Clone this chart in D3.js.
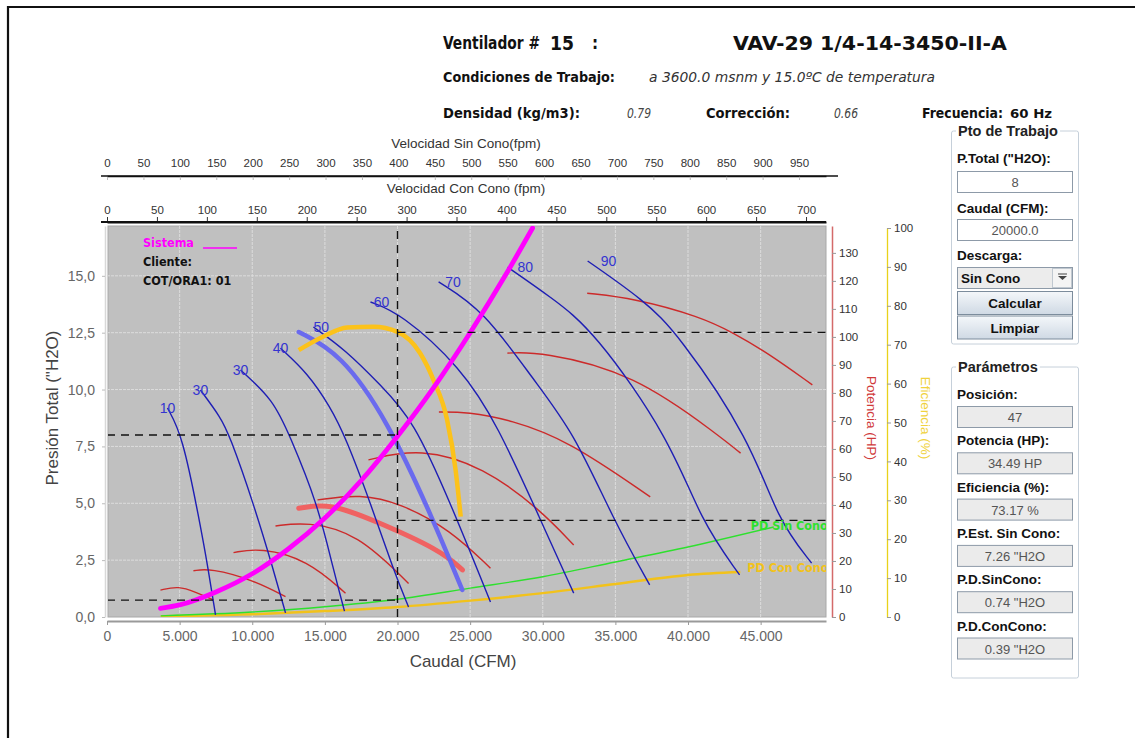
<!DOCTYPE html>
<html><head><meta charset="utf-8">
<script src="https://cdn.jsdelivr.net/npm/d3@7"></script>
<style>body{margin:0;background:#fff}svg{display:block}</style>
</head><body><svg id="c" width="1135" height="738"></svg>
<script>
// ---------------- DATA ----------------
const positionLabels = ["10","30","30","40","50","60","70","80","90"];
const pressureCfm = [
  [4160, 5190, 6360, 6980, 7470],
  [6430, 7810, 8430, 10080, 11460, 12290],
  [9190, 11460, 12560, 14490, 15590, 16350],
  [11940, 13800, 15380, 16420, 18140, 19720, 20760],
  [14210, 16420, 18830, 21100, 23650, 26400],
  [18140, 20210, 24350, 26900, 29850, 32130],
  [22830, 25930, 29370, 32130, 34880, 37360],
  [27580, 30540, 33500, 38800, 40860, 43550],
  [33090, 36950, 39290, 44310, 46170, 48510]
];
const pressureVals = [
  [9.19, 8.0, 4.26, 2.07, 0.09],
  [9.98, 8.79, 8.0, 5.01, 2.07, 0.18],
  [10.86, 9.54, 8.0, 5.01, 2.07, 0.26],
  [11.82, 10.73, 9.23, 7.91, 5.01, 2.07, 0.44],
  [12.75, 11.74, 10.20, 8.66, 5.01, 0.66],
  [13.85, 13.36, 10.99, 8.44, 4.26, 1.05],
  [14.73, 13.49, 10.42, 8.13, 4.26, 1.41],
  [15.38, 14.07, 12.62, 7.78, 4.26, 1.85],
  [15.65, 13.93, 12.48, 7.78, 4.26, 2.37]
];
const powerCfm = [
  [3680, 4920, 6090, 7330],
  [5950, 7120, 10080, 12290],
  [8710, 10570, 13800, 16420],
  [11600, 13800, 17240, 20760],
  [14490, 17450, 20210, 23650, 26400],
  [18000, 21590, 25930, 29850, 32130],
  [22850, 24830, 27780, 31700, 37400],
  [27560, 29850, 36260, 42250, 43620],
  [33060, 36260, 40870, 43140, 45480, 48560]
];
const powerVals = [
  [9.6, 11.1, 8.9, 6.1],
  [16.5, 17.4, 13.2, 7.25],
  [23.0, 24.75, 20.4, 8.5],
  [32.5, 34.0, 29.9, 12.0],
  [41.8, 43.9, 40.6, 31.1, 17.4],
  [56.1, 60.4, 53.6, 38.2, 25.7],
  [73.2, 73.2, 70.4, 63.2, 42.9],
  [94.2, 94.75, 87.1, 64.3, 58.5],
  [115.6, 113.8, 107.2, 101.4, 94.3, 82.9]
];
// operating blade position (47)
const opPressureCfm = [13200, 16070, 19310, 22470, 24460];
const opPressure    = [12.53, 11.6, 8.66, 4.26, 1.19];
const opPowerCfm    = [13200, 15380, 18340, 22960, 24470];
const opPower       = [38.8, 40.6, 34.6, 23.9, 16.8];
const opEffCfm      = [13200, 14900, 16530, 18340, 20000, 21560, 22480, 23420, 24000, 24350];
const opEff         = [68.6, 72.1, 74.4, 74.6, 73.3, 67.8, 60.9, 50.6, 37.8, 25.8];
// system curve
const systemCfm = [3680, 5000, 7500, 10000, 12500, 15000, 17500, 20000, 22500, 25000, 27500, 29300];
const systemP   = [0.38, 0.53, 1.1, 1.9, 3.0, 4.35, 6.0, 7.95, 10.1, 12.5, 15.1, 17.1];
// velocity pressure
const pdSinCfm = [3700, 10000, 15000, 20000, 25000, 30000, 35000, 40000, 45900];
const pdSin    = [0.05, 0.22, 0.45, 0.78, 1.27, 1.77, 2.42, 3.08, 3.96];
const pdConCfm = [3700, 10000, 15000, 20000, 25000, 30000, 35000, 40000, 43600];
const pdCon    = [0.03, 0.12, 0.26, 0.44, 0.72, 1.05, 1.45, 1.85, 1.98];
// working point
const workCfm = 20000, workP = 8, workHP = 34.49, workEff = 73.17, workPD = 0.74;
// ticks
const xTicks = [0,5000,10000,15000,20000,25000,30000,35000,40000,45000];
const yTicks = [0,2.5,5,7.5,10,12.5,15];
const hpTicks = d3.range(0, 131, 10);
const effTicks = d3.range(0, 101, 10);
const sinConoTicks = d3.range(0, 951, 50);
const conConoTicks = d3.range(0, 701, 50);
// panel texts
const ptoLabels = ['P.Total ("H2O):', 'Caudal (CFM):'];
const ptoValues = ['8', '20000.0'];
const paramLabels = ['Posición:', 'Potencia (HP):', 'Eficiencia (%):', 'P.Est. Sin Cono:', 'P.D.SinCono:', 'P.D.ConCono:'];
const paramValues = ['47', '34.49 HP', '73.17 %', '7.26 "H2O', '0.74 "H2O', '0.39 "H2O'];

// ---------------- SETUP ----------------
const svg = d3.select("#c");
const SANS = "'Liberation Sans', Arial, sans-serif";
const COND = "'DejaVu Sans Condensed', 'Liberation Sans Narrow', 'DejaVu Sans', sans-serif";
const L = 107, R = 826, T = 226, B = 617;
const x = d3.scaleLinear().domain([0, 49500]).range([L, R]);
const y = d3.scaleLinear().domain([0, 17.19]).range([B, T]);
const yHP = d3.scaleLinear().domain([0, 139.6]).range([B, T]);
const yEff = d3.scaleLinear().domain([0, 100]).range([B, 228]);
const xSin = d3.scaleLinear().domain([0, 987]).range([L, R]);
const xCon = d3.scaleLinear().domain([0, 720]).range([L, R]);

svg.append("rect").attr("width",1135).attr("height",738).attr("fill","#fff");
svg.append("path").attr("d","M8,738V7H1135").attr("fill","none").attr("stroke","#111").attr("stroke-width",2.2);

// ---------------- HEADER ----------------
function txt(xx, yy, s, o) {
  o = o || {};
  const t = svg.append("text").attr("x", xx).attr("y", yy).text(s)
    .attr("font-family", o.ff || COND).attr("font-size", o.fs || 13)
    .attr("font-weight", o.fw || "normal").attr("font-style", o.fi || "normal")
    .attr("fill", o.fill || "#111").attr("text-anchor", o.anchor || "start");
  if (o.len) t.attr("textLength", o.len).attr("lengthAdjust", "spacingAndGlyphs");
  return t;
}
txt(443, 49, "Ventilador #", {fs:17, fw:"bold", len:97});
txt(550, 50, "15", {fs:20, fw:"bold", len:24});
txt(592, 49, ":", {fs:17, fw:"bold"});
txt(733, 50, "VAV-29 1/4-14-3450-II-A", {fs:19, fw:"bold", len:274});
txt(443, 82, "Condiciones de Trabajo:", {fs:13.5, fw:"bold", len:172});
txt(649, 82, "a 3600.0 msnm y 15.0ºC de temperatura", {fs:13.5, fi:"italic", fill:"#333", len:286});
txt(443, 118, "Densidad (kg/m3):", {fs:13.5, fw:"bold", len:137});
txt(627, 118, "0.79", {fs:13.5, fi:"italic", fill:"#444", len:24});
txt(706, 118, "Corrección:", {fs:13.5, fw:"bold", len:84});
txt(834, 118, "0.66", {fs:13.5, fi:"italic", fill:"#444", len:24});
txt(922, 118, "Frecuencia:", {fs:13.5, fw:"bold", len:81});
txt(1010, 118, "60 Hz", {fs:13, fw:"bold", len:42});

// ---------------- TOP AXES ----------------
const gSin = svg.append("g").attr("transform", `translate(0,176)`)
  .call(d3.axisTop(xSin).tickValues(sinConoTicks).tickSizeInner(-4).tickSizeOuter(0).tickPadding(9));
gSin.select(".domain").attr("stroke","#111").attr("stroke-width",1.5);
gSin.selectAll(".tick line").attr("stroke","#bbb");
gSin.selectAll("text").attr("font-family",SANS).attr("font-size",11.5).attr("fill","#333");
svg.append("line").attr("x1",101).attr("x2",838).attr("y1",176).attr("y2",176).attr("stroke","#111").attr("stroke-width",1.5);
txt(466, 148, "Velocidad Sin Cono(fpm)", {ff:SANS, fs:13.5, fill:"#333", anchor:"middle"});

const gCon = svg.append("g").attr("transform", `translate(0,222)`)
  .call(d3.axisTop(xCon).tickValues(conConoTicks).tickSizeInner(5).tickSizeOuter(0).tickPadding(3));
gCon.select(".domain").attr("stroke","#111").attr("stroke-width",2);
gCon.selectAll(".tick line").attr("stroke","#333");
gCon.selectAll("text").attr("font-family",SANS).attr("font-size",11.5).attr("fill","#333");
svg.append("line").attr("x1",101).attr("x2",826).attr("y1",222).attr("y2",222).attr("stroke","#111").attr("stroke-width",2);
txt(466, 193, "Velocidad Con Cono (fpm)", {ff:SANS, fs:13.5, fill:"#333", anchor:"middle"});

// ---------------- PLOT AREA ----------------
svg.append("clipPath").attr("id","clip").append("rect").attr("x",L+1).attr("y",T).attr("width",R-L-1).attr("height",B-T);
svg.append("rect").attr("x",L+1).attr("y",T).attr("width",R-L-1).attr("height",B-T)
  .attr("fill","#c0c0c0").attr("stroke","#a8a8a8").attr("stroke-width",1);
const plot = svg.append("g").attr("clip-path","url(#clip)");
plot.selectAll(".gx").data(xTicks.slice(1)).join("line")
  .attr("x1",d=>x(d)).attr("x2",d=>x(d)).attr("y1",T).attr("y2",B)
  .attr("stroke","#dcdcdc").attr("stroke-width",1).attr("stroke-dasharray","3,1");
plot.selectAll(".gy").data(yTicks.slice(1)).join("line")
  .attr("x1",L).attr("x2",R).attr("y1",d=>y(d)).attr("y2",d=>y(d))
  .attr("stroke","#dcdcdc").attr("stroke-width",1).attr("stroke-dasharray","3,1");

const lineP = d3.line().x(d=>x(d[0])).y(d=>y(d[1])).curve(d3.curveBasis);
const lineHP = d3.line().x(d=>x(d[0])).y(d=>yHP(d[1])).curve(d3.curveBasis);
const lineEff = d3.line().x(d=>x(d[0])).y(d=>yEff(d[1])).curve(d3.curveMonotoneX);
const lineSys = d3.line().x(d=>x(d[0])).y(d=>y(d[1])).curve(d3.curveMonotoneX);
const zip = (a,b) => a.map((v,i)=>[v,b[i]]);

plot.append("path").attr("d", lineSys(zip(pdConCfm,pdCon))).attr("fill","none").attr("stroke","#f2c21b").attr("stroke-width",2.5);
plot.append("path").attr("d", lineSys(zip(pdSinCfm,pdSin))).attr("fill","none").attr("stroke","#2ee02e").attr("stroke-width",1.4);
powerCfm.forEach((c,i)=>{
  plot.append("path").attr("d", lineHP(zip(c,powerVals[i]))).attr("fill","none").attr("stroke","#cc2a2a").attr("stroke-width",1.4);
});
plot.append("path").attr("d", lineHP(zip(opPowerCfm,opPower))).attr("fill","none").attr("stroke","#f06262").attr("stroke-width",5).attr("stroke-linecap","round");
pressureCfm.forEach((c,i)=>{
  plot.append("path").attr("d", lineP(zip(c,pressureVals[i]))).attr("fill","none").attr("stroke","#1e1eb4").attr("stroke-width",1.4);
  const s = [c[0], pressureVals[i][0]];
  plot.append("text").attr("x", x(s[0]) + (i<4 ? 0 : (i-4)*3.3)).attr("y", y(s[1]) + 5)
    .attr("text-anchor", i<4 ? "middle" : "start").text(positionLabels[i])
    .attr("font-family",SANS).attr("font-size",14).attr("fill","#3434d0");
});
plot.append("path").attr("d", lineP(zip(opPressureCfm,opPressure))).attr("fill","none").attr("stroke","#6a6aee").attr("stroke-width",4.5).attr("stroke-linecap","round");
plot.append("path").attr("d", lineEff(zip(opEffCfm,opEff))).attr("fill","none").attr("stroke","#fcc21a").attr("stroke-width",4.5);
plot.append("path").attr("d", lineSys(zip(systemCfm,systemP))).attr("fill","none").attr("stroke","#ff00ff").attr("stroke-width",4.8).attr("stroke-linecap","round");

function dline(x1,y1,x2,y2){
  plot.append("line").attr("x1",x1).attr("y1",y1).attr("x2",x2).attr("y2",y2)
    .attr("stroke","#111").attr("stroke-width",1.4).attr("stroke-dasharray","8,6");
}
dline(x(workCfm), B, x(workCfm), T);
dline(L, y(workP), x(workCfm), y(workP));
dline(L, y(workPD), x(workCfm), y(workPD));
dline(x(workCfm), yHP(workHP), R, yHP(workHP));
dline(x(workCfm), yEff(workEff), R, yEff(workEff));

const gl = pdSinCfm.length-1, yl = pdConCfm.length-1;
plot.append("text").attr("x", x(pdSinCfm[gl]) - 23).attr("y", y(pdSin[gl]) + 3).text("PD Sin Cono")
  .attr("font-family",COND).attr("font-weight","bold").attr("font-size",12.5).attr("fill","#2ee02e");
plot.append("text").attr("x", x(pdConCfm[yl]) + 7).attr("y", y(pdCon[yl])).text("PD Con Cono")
  .attr("font-family",COND).attr("font-weight","bold").attr("font-size",12.5).attr("fill","#f2c21b");

txt(143, 247, "Sistema", {fs:12.5, fw:"bold", fill:"#ff00ff"});
svg.append("line").attr("x1",203).attr("x2",237).attr("y1",248).attr("y2",248).attr("stroke","#ff00ff").attr("stroke-width",1.3);
txt(143, 266, "Cliente:", {fs:12.5, fw:"bold"});
txt(143, 285, "COT/ORA1: 01", {fs:12.5, fw:"bold"});

// ---------------- MAIN AXES ----------------
const gx = svg.append("g").attr("transform",`translate(0,621)`)
  .call(d3.axisBottom(x).tickValues(xTicks).tickSizeInner(4).tickSizeOuter(0).tickPadding(6)
    .tickFormat(d => d3.format(",")(d).replace(/,/g,".")));
gx.select(".domain").attr("stroke","#9a9a9a").attr("stroke-width",2);
gx.selectAll(".tick line").attr("stroke","#9a9a9a");
gx.selectAll("text").attr("font-family",SANS).attr("font-size",14).attr("fill","#666");

const gy = svg.append("g").attr("transform",`translate(105,0)`)
  .call(d3.axisLeft(y).tickValues(yTicks).tickSizeInner(3).tickSizeOuter(0).tickPadding(7)
    .tickFormat(d => d3.format(".1f")(d).replace(".",",")));
gy.select(".domain").attr("stroke","#d8d8d8").attr("stroke-width",1.5);
gy.selectAll(".tick line").attr("stroke","#bbb");
gy.selectAll("text").attr("font-family",SANS).attr("font-size",14).attr("fill","#666");

svg.append("text").attr("transform","translate(58,408) rotate(-90)").attr("text-anchor","middle")
  .text('Presión Total ("H2O)').attr("font-family",SANS).attr("font-size",17).attr("fill","#444");
svg.append("text").attr("x",463).attr("y",667).attr("text-anchor","middle")
  .text("Caudal (CFM)").attr("font-family",SANS).attr("font-size",17).attr("fill","#444");

const gHP = svg.append("g").attr("transform",`translate(832,0)`)
  .call(d3.axisRight(yHP).tickValues(hpTicks).tickSizeInner(4).tickSizeOuter(0).tickPadding(3));
gHP.select(".domain").attr("stroke","#d46a6a").attr("stroke-width",1.5);
gHP.selectAll(".tick line").attr("stroke","#999");
gHP.selectAll("text").attr("font-family",SANS).attr("font-size",11.5).attr("fill","#333");
svg.append("text").attr("transform","translate(867,418) rotate(90)").attr("text-anchor","middle")
  .text("Potencia (HP)").attr("font-family",SANS).attr("font-size",13.5).attr("fill","#d03a3a");

const gE = svg.append("g").attr("transform",`translate(887,0)`)
  .call(d3.axisRight(yEff).tickValues(effTicks).tickSizeInner(4).tickSizeOuter(0).tickPadding(3));
gE.select(".domain").attr("stroke","#e8d21a").attr("stroke-width",1.3);
gE.selectAll(".tick line").attr("stroke","#999");
gE.selectAll("text").attr("font-family",SANS).attr("font-size",11.5).attr("fill","#333");
svg.append("text").attr("transform","translate(921,418) rotate(90)").attr("text-anchor","middle")
  .text("Eficiencia (%)").attr("font-family",SANS).attr("font-size",13.5).attr("fill","#f0d23c");

// ---------------- RIGHT PANEL ----------------
function groupBox(y0, y1, title){
  svg.append("rect").attr("x",951.5).attr("y",y0).attr("width",127).attr("height",y1-y0)
    .attr("fill","none").attr("stroke","#c6d0da").attr("rx",2);
  const t = txt(958, y0+5, title, {ff:SANS, fs:14.5, fw:"bold", fill:"#222"});
  const bb = t.node().getBBox();
  svg.insert("rect", () => t.node()).attr("x",bb.x-2).attr("y",bb.y).attr("width",bb.width+4).attr("height",bb.height).attr("fill","#fff");
}
function field(ty, label, by, value, fill){
  txt(957, ty, label, {ff:SANS, fs:13.5, fw:"bold", fill:"#111"});
  svg.append("rect").attr("x",957.5).attr("y",by+0.5).attr("width",115).attr("height",21)
    .attr("fill",fill).attr("stroke","#8d9aa8");
  txt(1015, by+16, value, {ff:SANS, fs:13, fill:"#555", anchor:"middle"});
}
groupBox(131, 344, "Pto de Trabajo");
field(163, ptoLabels[0], 171, ptoValues[0], "#fff");
field(213, ptoLabels[1], 219, ptoValues[1], "#fff");
txt(957, 260, "Descarga:", {ff:SANS, fs:13.5, fw:"bold", fill:"#111"});
svg.append("rect").attr("x",957.5).attr("y",267.5).attr("width",115).attr("height",21).attr("fill","#ececec").attr("stroke","#8d9aa8");
svg.append("rect").attr("x",1052.5).attr("y",268.5).attr("width",19).attr("height",19).attr("fill","#f4f4f4").attr("stroke","#c0c8d0");
svg.append("path").attr("d","M1058,276h9l-4.5,4z").attr("fill","#444");
svg.append("line").attr("x1",1058).attr("x2",1067).attr("y1",274).attr("y2",274).attr("stroke","#444");
txt(961, 283, "Sin Cono", {ff:SANS, fs:13.5, fw:"bold", fill:"#111"});
const grad = svg.append("defs").append("linearGradient").attr("id","btn").attr("x1",0).attr("x2",0).attr("y1",0).attr("y2",1);
grad.append("stop").attr("offset","0%").attr("stop-color","#f4f7fa");
grad.append("stop").attr("offset","100%").attr("stop-color","#cfd9e4");
[["Calcular",291],["Limpiar",315.5]].forEach(([s,by])=>{
  svg.append("rect").attr("x",957.5).attr("y",by+0.5).attr("width",115).attr("height",23).attr("fill","url(#btn)").attr("stroke","#7c8c9c");
  txt(1015, by+17, s, {ff:SANS, fs:13.5, fw:"bold", fill:"#111", anchor:"middle"});
});
groupBox(367, 678, "Parámetros");
paramLabels.forEach((lab,i)=>{
  const by = 406 + i*46.3;
  field(by-7, lab, by, paramValues[i], "#ebebeb");
});
</script></body></html>
